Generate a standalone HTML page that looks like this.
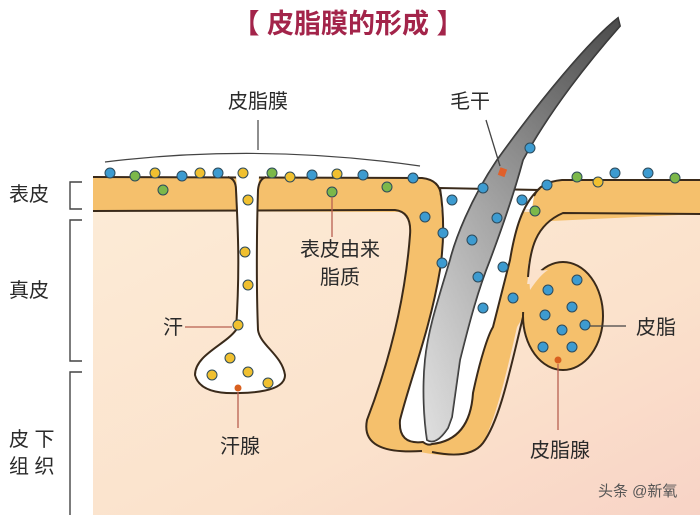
<!DOCTYPE html>
<html><head><meta charset="utf-8"><style>
html,body{margin:0;padding:0;background:#fff;}
svg{display:block;}
text{font-family:"Liberation Sans","Noto Sans CJK SC",sans-serif;fill:#2a2a2a;}
</style></head><body>
<svg width="700" height="515" viewBox="0 0 700 515" xmlns="http://www.w3.org/2000/svg">
<defs>
<linearGradient id="derm" x1="0" y1="0" x2="1" y2="1">
<stop offset="0" stop-color="#fcebd6"/><stop offset="0.6" stop-color="#fbe2cc"/><stop offset="1" stop-color="#f8d3c6"/>
</linearGradient>
<linearGradient id="hair" x1="0" y1="0" x2="1" y2="0">
<stop offset="0" stop-color="#d8d8d8"/><stop offset="0.5" stop-color="#a8a8a8"/><stop offset="1" stop-color="#6a6a6a"/>
</linearGradient>
<linearGradient id="hairv" x1="0" y1="0" x2="0" y2="1">
<stop offset="0" stop-color="#444" stop-opacity="0.8"/><stop offset="0.45" stop-color="#777" stop-opacity="0.3"/><stop offset="1" stop-color="#fff" stop-opacity="0.2"/>
</linearGradient>
</defs>
<!-- title -->
<text x="348" y="33" font-size="27" font-weight="bold" text-anchor="middle" style="fill:#a3244a">【 皮脂膜的形成 】</text>
<!-- dermis -->
<rect x="93" y="209" width="607" height="306" fill="url(#derm)"/>
<!-- epidermis bands -->
<path d="M93,177 L422,178 Q440,180 441,196 L441,212 L93,211 Z" fill="#f5c06c"/>
<path d="M700,180 L562,180 Q540,182 534,196 L530,222 L700,214 Z" fill="#f5c06c"/>
<!-- follicle -->
<path d="M395,209 Q412,212 410,235 C405,300 390,360 367,420 Q360,455 420,452 Q470,462 483,443 C495,420 505,380 517,327 L523,317 L528,277 C530,250 535,225 563,212 L530,212 L441,210 Z" fill="#f5c06c"/>
<ellipse cx="563" cy="316" rx="40" ry="54" fill="#f5c06c" stroke="#3a2a1a" stroke-width="2"/>
<rect x="518" y="284" width="14" height="28" fill="#f5c06c"/>
<path d="M528,262 Q535,272 548,270 Q540,275 530,290 Z" fill="#fbe2cc"/>
<!-- outlines -->
<g fill="none" stroke="#3a2a1a" stroke-width="2">
<path d="M93,211 L395,210 Q412,212 410,235 C405,300 390,360 367,420 Q360,455 422,451"/>
<path d="M700,214 L563,213 C535,225 530,250 528,277"/>
<path d="M523,317 C510,370 500,420 483,443 Q470,460 432,452"/>
<path d="M93,177 L422,178 Q440,180 441,196"/>
<path d="M700,180 L562,180 Q540,182 534,196"/>
</g>
<!-- white channel -->
<path d="M440,188 C445,220 443,250 440,270 C430,330 410,380 400,420 Q398,445 423,442 Q428,446 432,444 Q470,440 473,393 C480,360 488,335 493,327 L510,260 C515,230 522,205 538,190 Z" fill="#fff" stroke="#3a2a1a" stroke-width="2"/>
<!-- hair -->
<path d="M618,18 C590,40 540,100 497,160 C470,200 455,240 450,260 C438,300 428,330 425,360 C422,390 424,420 427,440 Q436,446 448,428 L452,417 C455,395 458,375 460,360 C470,320 478,290 490,260 C505,220 515,190 523,160 C550,110 590,60 620,26 Z" fill="url(#hair)" stroke="#333" stroke-width="1.8"/>
<path d="M618,18 C590,40 540,100 497,160 C470,200 455,240 450,260 C438,300 428,330 425,360 C422,390 424,420 427,440 Q436,446 448,428 L452,417 C455,395 458,375 460,360 C470,320 478,290 490,260 C505,220 515,190 523,160 C550,110 590,60 620,26 Z" fill="url(#hairv)"/>
<!-- sweat duct -->
<path d="M236,176 C238,200 240,250 236,330 C225,345 195,355 195,375 Q200,395 240,393 Q285,392 285,375 C282,355 260,345 258,330 C256,280 257,220 259,176 Z" fill="#fff"/>
<path d="M228,177 Q236,179 236,190 C238,230 240,270 236,330 C225,345 195,355 195,375 Q200,395 240,393 Q285,392 285,375 C282,355 260,345 258,330 C256,280 257,220 258,190 Q259,179 266,177" fill="none" stroke="#3a2a1a" stroke-width="2"/>
<!-- brace for 皮脂膜 -->
<path d="M105,162 Q260,143 420,166" fill="none" stroke="#444" stroke-width="1.2"/>
<line x1="258" y1="120" x2="258" y2="150" stroke="#444" stroke-width="1.2"/>
<!-- dots -->
<g stroke="#2d4a5a" stroke-width="1">
<g fill="#3d9bd0">
<circle cx="110" cy="173" r="5"/><circle cx="182" cy="176" r="5"/><circle cx="218" cy="173" r="5"/><circle cx="312" cy="175" r="5"/><circle cx="363" cy="175" r="5"/><circle cx="413" cy="178" r="5"/>
<circle cx="452" cy="200" r="5"/><circle cx="425" cy="217" r="5"/><circle cx="443" cy="233" r="5"/><circle cx="442" cy="263" r="5"/><circle cx="483" cy="188" r="5"/><circle cx="522" cy="200" r="5"/><circle cx="530" cy="148" r="5"/><circle cx="497" cy="218" r="5"/><circle cx="472" cy="240" r="5"/><circle cx="503" cy="267" r="5"/><circle cx="478" cy="277" r="5"/><circle cx="483" cy="308" r="5"/><circle cx="513" cy="298" r="5"/>
<circle cx="547" cy="185" r="5"/><circle cx="615" cy="173" r="5"/><circle cx="648" cy="173" r="5"/>
<circle cx="577" cy="280" r="5"/><circle cx="548" cy="290" r="5"/><circle cx="572" cy="307" r="5"/><circle cx="545" cy="315" r="5"/><circle cx="562" cy="330" r="5"/><circle cx="585" cy="325" r="5"/><circle cx="543" cy="347" r="5"/><circle cx="572" cy="347" r="5"/>
</g>
<g fill="#7cb84a">
<circle cx="135" cy="176" r="5"/><circle cx="272" cy="173" r="5"/><circle cx="163" cy="190" r="5"/><circle cx="332" cy="192" r="5"/><circle cx="387" cy="187" r="5"/><circle cx="535" cy="211" r="5"/><circle cx="577" cy="177" r="5"/><circle cx="675" cy="178" r="5"/>
</g>
<g fill="#f0c030">
<circle cx="155" cy="173" r="5"/><circle cx="200" cy="173" r="5"/><circle cx="243" cy="173" r="5"/><circle cx="290" cy="177" r="5"/><circle cx="337" cy="174" r="5"/><circle cx="598" cy="182" r="5"/>
<circle cx="248" cy="200" r="5"/><circle cx="245" cy="252" r="5"/><circle cx="248" cy="285" r="5"/><circle cx="238" cy="325" r="5"/><circle cx="230" cy="358" r="5"/><circle cx="212" cy="375" r="5"/><circle cx="248" cy="372" r="5"/><circle cx="268" cy="383" r="5"/>
</g>
</g>
<circle cx="238" cy="388" r="3.5" fill="#d9601f"/>
<circle cx="558" cy="360" r="3.5" fill="#d9601f"/>
<rect x="499" y="168" width="7" height="8" fill="#e0602a" transform="rotate(20 502 172)"/>
<!-- leader lines -->
<g stroke="#b86050" stroke-width="1.3">
<line x1="332" y1="197" x2="332" y2="237"/>
<line x1="185" y1="327" x2="232" y2="327"/>
<line x1="238" y1="392" x2="238" y2="428"/>
<line x1="558" y1="364" x2="558" y2="430"/>
</g>
<line x1="590" y1="326" x2="626" y2="326" stroke="#444" stroke-width="1.3"/>
<line x1="486" y1="120" x2="500" y2="166" stroke="#444" stroke-width="1.3"/>
<!-- left brackets -->
<g fill="none" stroke="#444" stroke-width="1.4">
<path d="M82,182 L70,182 L70,209 L82,209"/>
<path d="M82,220 L70,220 L70,361 L82,361"/>
<path d="M82,372 L70,372 L70,515"/>
</g>
<!-- labels -->
<g font-size="20">
<text x="9" y="201">表皮</text>
<text x="9" y="297">真皮</text>
<text x="9" y="446">皮 下</text>
<text x="9" y="473">组 织</text>
<text x="258" y="108" text-anchor="middle">皮脂膜</text>
<text x="470" y="108" text-anchor="middle">毛干</text>
<text x="340" y="256" text-anchor="middle">表皮由来</text>
<text x="340" y="284" text-anchor="middle">脂质</text>
<text x="173" y="334" text-anchor="middle">汗</text>
<text x="240" y="453" text-anchor="middle">汗腺</text>
<text x="656" y="334" text-anchor="middle">皮脂</text>
<text x="560" y="457" text-anchor="middle">皮脂腺</text>
</g>
<text x="598" y="496" font-size="15" style="fill:#555">头条 @新氧</text>
</svg>
</body></html>
